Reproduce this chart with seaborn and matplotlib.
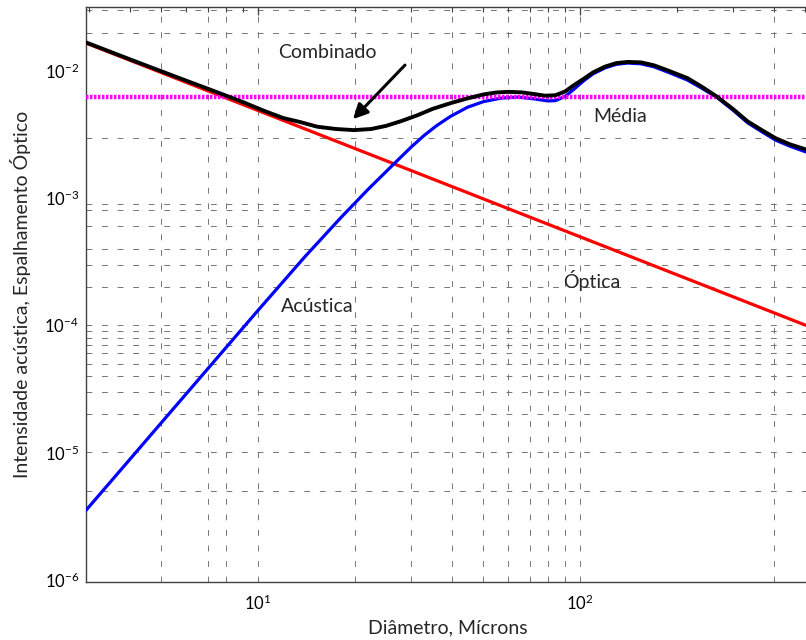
import matplotlib
matplotlib.use("Agg")
import matplotlib.pyplot as plt
import seaborn as sns

# ---- data ----
optica_d = [2.93, 519.0]
optica_i = [0.0166, 9.7e-5]

acustica_d = [2.93, 10.0, 14.0, 18.1, 22.0, 26.6, 30.0, 32.8, 36.0, 39.7, 44.9, 50.3,
              56.9, 64.2, 72.0, 79.5, 84.0, 90.0, 96.0, 103.0, 110.0, 120.0, 130.0,
              141.0, 155.0, 170.0, 190.0, 216.0, 240.0, 268.0, 300.0, 333.0, 370.0,
              406.0, 450.0, 519.0]
acustica_i = [3.5e-6, 1.3e-4, 3.45e-4, 7.0e-4, 1.17e-3, 1.88e-3, 2.53e-3, 3.1e-3,
              3.73e-3, 4.4e-3, 5.2e-3, 5.75e-3, 6.12e-3, 6.24e-3, 6.05e-3, 5.82e-3,
              5.85e-3, 6.3e-3, 7.2e-3, 8.4e-3, 9.5e-3, 1.06e-2, 1.13e-2, 1.156e-2,
              1.14e-2, 1.08e-2, 9.7e-3, 8.5e-3, 7.3e-3, 6.15e-3, 4.9e-3, 3.9e-3,
              3.3e-3, 2.86e-3, 2.56e-3, 2.25e-3]

combinado_d = [2.93, 4.0, 5.0, 6.0, 7.5, 9.0, 10.5, 12.0, 13.5, 15.3, 17.5, 19.9,
               22.5, 25.0, 28.0, 31.4, 35.0, 39.8, 44.9, 50.3, 55.0, 60.0, 66.0,
               72.0, 78.0, 84.0, 90.0, 96.0, 103.0, 110.0, 120.0, 130.0, 141.0,
               155.0, 170.0, 190.0, 216.0, 240.0, 268.0, 300.0, 333.0, 370.0,
               406.0, 450.0, 519.0]
combinado_i = [0.0168, 0.0124, 0.0100, 0.0084, 0.0068, 0.0057, 0.00485, 0.00427,
               0.00398, 0.00365, 0.00350, 0.00343, 0.00350, 0.00370, 0.00405,
               0.00450, 0.00505, 0.00560, 0.00610, 0.00655, 0.00678, 0.00686,
               0.00680, 0.00660, 0.00640, 0.00645, 0.00690, 0.00775, 0.00870,
               0.00975, 0.01085, 0.01155, 0.01180, 0.01170, 0.01110, 0.01000,
               0.00880, 0.00750, 0.00624, 0.00500, 0.00400, 0.00340, 0.00296,
               0.00265, 0.00236]

media_d = [2.93, 519.0]
media_i = [6.22e-3, 6.22e-3]

grid_x = [5, 7, 8, 10, 20, 30, 40, 50, 60, 70, 80, 90, 100, 400]
grid_y = [3e-2, 2e-2, 3e-3, 9e-4, 8e-4, 6e-4, 4e-4, 3e-4, 2e-4, 1e-4, 9e-5, 8e-5,
          7e-5, 6e-5, 5e-5, 4e-5, 3e-5, 2e-5, 1e-5, 5e-6]

x_label = "Diâmetro, Mícrons"
y_label = "Intensidade acústica, Espalhamento Óptico"

# ---- style ----
sns.set_style("white")
plt.rcParams['font.family'] = ['Lato', 'DejaVu Sans']
plt.rcParams['mathtext.fontset'] = 'custom'
plt.rcParams['mathtext.rm'] = 'Liberation Sans'
plt.rcParams['mathtext.it'] = 'Liberation Sans:italic'
plt.rcParams['mathtext.bf'] = 'Liberation Sans:bold'

W, H = 806, 640
fig = plt.figure(figsize=(W / 100, H / 100), dpi=100)
L, R, T, B = 86, 810, 7, 582
ax = fig.add_axes([L / W, 1 - B / H, (R - L) / W, (B - T) / H])
ax.set_xscale('log')
ax.set_yscale('log')
ax.set_xlim(2.93, 519)
ax.set_ylim(10 ** (-6.02), 10 ** (-1.496))

grid_kw = dict(color='#757575', lw=0.7, ls=(0, (6, 10)), zorder=0.5)
for gx in grid_x:
    ax.axvline(gx, **grid_kw)
for gy in grid_y:
    ax.axhline(gy, **grid_kw)

sns.lineplot(x=optica_d, y=optica_i, ax=ax, color='#ff0000', lw=2.3,
             sort=False, estimator=None, zorder=3)
sns.lineplot(x=acustica_d, y=acustica_i, ax=ax, color='#0000ff', lw=2.3,
             sort=False, estimator=None, zorder=4)
sns.lineplot(x=media_d, y=media_i, ax=ax, color='#ff00ff', lw=3.2,
             ls=(0, (0.55, 0.35)), sort=False, estimator=None, zorder=5)
sns.lineplot(x=combinado_d, y=combinado_i, ax=ax, color='#000000', lw=2.8,
             sort=False, estimator=None, zorder=6)

# spines / ticks
for s in ['left', 'bottom', 'top']:
    ax.spines[s].set_color('#404040')
    ax.spines[s].set_linewidth(1.0)
ax.spines['right'].set_visible(False)
ax.tick_params(which='both', direction='in', top=True, right=False,
               colors='#404040', labelcolor='black')
ax.tick_params(which='major', length=6, width=0.9, labelsize=12)
ax.tick_params(which='minor', length=3.5, width=0.8)
ax.tick_params(axis='x', which='major', pad=8)
ax.tick_params(axis='y', which='major', pad=5)

ax.set_xlabel(x_label, fontsize=14, labelpad=5)
ax.set_ylabel(y_label, fontsize=14, labelpad=10)

# annotations
ax.text(0.334, 0.92, "Combinado", transform=ax.transAxes, fontsize=14,
        ha='center', va='center')
ax.text(0.7376, 0.810, "Média", transform=ax.transAxes, fontsize=14,
        ha='center', va='center')
ax.text(0.699, 0.525, "Óptica", transform=ax.transAxes, fontsize=14,
        ha='center', va='center')
ax.text(0.319, 0.48, "Acústica", transform=ax.transAxes, fontsize=14,
        ha='center', va='center')
ax.annotate("", xy=(0.3688, 0.805), xytext=(0.4406, 0.899),
            xycoords='axes fraction', textcoords='axes fraction',
            arrowprops=dict(arrowstyle='-|>', lw=2.2, color='black',
                            mutation_scale=22, shrinkA=0, shrinkB=0),
            zorder=7)

fig.savefig("out.png", dpi=100)
